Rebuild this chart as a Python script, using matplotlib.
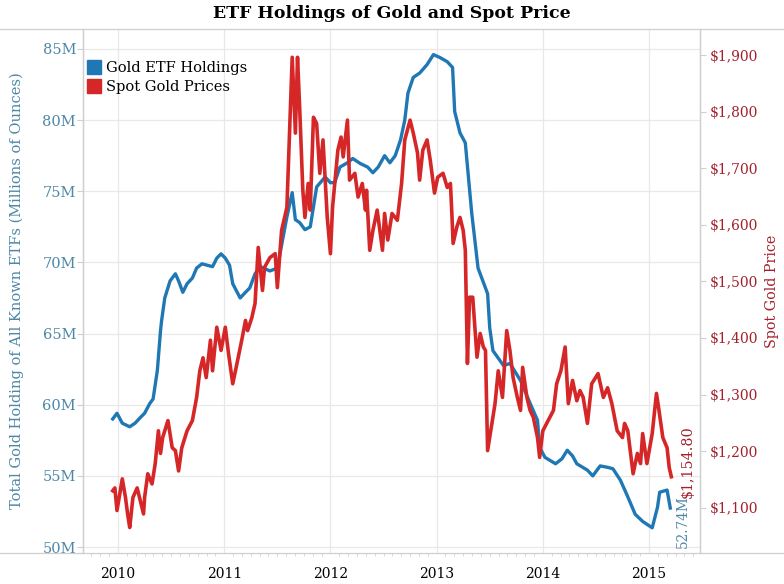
import matplotlib
matplotlib.use("Agg")
import matplotlib.pyplot as plt
from matplotlib.lines import Line2D
from matplotlib.ticker import FixedLocator, MultipleLocator, FuncFormatter

# Gold ETF holdings (millions of ounces)
hold_year = [2009.95, 2009.99, 2010.04, 2010.11, 2010.16, 2010.21, 2010.25, 2010.30, 2010.33, 2010.37,
             2010.40, 2010.41, 2010.44, 2010.49, 2010.54, 2010.57, 2010.61, 2010.65, 2010.70, 2010.74,
             2010.79, 2010.84, 2010.89, 2010.93, 2010.97, 2011.01, 2011.05, 2011.08, 2011.15, 2011.20,
             2011.24, 2011.29, 2011.34, 2011.43, 2011.50, 2011.55, 2011.59, 2011.64, 2011.67, 2011.71,
             2011.76, 2011.81, 2011.84, 2011.87, 2011.95, 2012.00, 2012.04, 2012.09, 2012.16, 2012.21,
             2012.28, 2012.35, 2012.40, 2012.45, 2012.51, 2012.56, 2012.61, 2012.66, 2012.70, 2012.73,
             2012.78, 2012.84, 2012.91, 2012.97, 2013.03, 2013.10, 2013.15, 2013.17, 2013.22, 2013.27,
             2013.33, 2013.39, 2013.48, 2013.50, 2013.53, 2013.63, 2013.69, 2013.79, 2013.88, 2013.95,
             2013.97, 2014.02, 2014.12, 2014.18, 2014.23, 2014.28, 2014.32, 2014.42, 2014.47, 2014.54,
             2014.61, 2014.66, 2014.73, 2014.79, 2014.87, 2014.94, 2015.03, 2015.08, 2015.10, 2015.17,
             2015.20]
hold_m = [59.0, 59.4, 58.7, 58.45, 58.7, 59.1, 59.4, 60.1, 60.4, 62.4,
          65.2, 65.9, 67.5, 68.7, 69.2, 68.7, 67.9, 68.5, 68.9, 69.6,
          69.9, 69.8, 69.7, 70.3, 70.6, 70.3, 69.8, 68.5, 67.5, 67.9,
          68.2, 69.2, 69.7, 69.4, 69.6, 71.6, 73.2, 74.9, 73.0, 72.8,
          72.3, 72.5, 73.9, 75.3, 76.0, 75.6, 75.6, 76.7, 77.0, 77.3,
          76.95, 76.7, 76.3, 76.7, 77.5, 77.0, 77.5, 78.6, 80.0, 81.9,
          83.0, 83.3, 83.9, 84.6, 84.4, 84.1, 83.7, 80.6, 79.1, 78.4,
          73.5, 69.6, 67.8, 65.4, 63.8, 62.75, 62.9, 61.7, 60.1, 58.9,
          57.0, 56.3, 55.85, 56.2, 56.8, 56.4, 55.85, 55.4, 55.0, 55.7,
          55.6, 55.5, 54.7, 53.7, 52.3, 51.8, 51.35, 52.8, 53.85, 54.0,
          52.74]

# Spot gold price (USD)
price_year = [2009.95, 2009.97, 2009.99, 2010.04, 2010.07, 2010.09, 2010.11, 2010.14, 2010.18, 2010.21,
              2010.24, 2010.25, 2010.28, 2010.32, 2010.35, 2010.38, 2010.40, 2010.42, 2010.47, 2010.51,
              2010.54, 2010.57, 2010.60, 2010.65, 2010.70, 2010.74, 2010.77, 2010.80, 2010.83, 2010.87,
              2010.89, 2010.93, 2010.97, 2011.01, 2011.04, 2011.08, 2011.12, 2011.17, 2011.20, 2011.22,
              2011.26, 2011.29, 2011.32, 2011.36, 2011.38, 2011.43, 2011.48, 2011.50, 2011.54, 2011.59,
              2011.62, 2011.64, 2011.67, 2011.69, 2011.71, 2011.74, 2011.76, 2011.79, 2011.81, 2011.84,
              2011.87, 2011.90, 2011.93, 2011.97, 2012.00, 2012.02, 2012.07, 2012.10, 2012.12, 2012.16,
              2012.18, 2012.23, 2012.26, 2012.30, 2012.33, 2012.34, 2012.37, 2012.40, 2012.44, 2012.49,
              2012.51, 2012.54, 2012.58, 2012.63, 2012.67, 2012.70, 2012.75, 2012.78, 2012.82, 2012.84,
              2012.87, 2012.91, 2012.94, 2012.98, 2013.01, 2013.06, 2013.10, 2013.13, 2013.145, 2013.155,
              2013.19, 2013.22, 2013.25, 2013.27, 2013.29, 2013.31, 2013.34, 2013.38, 2013.41, 2013.44,
              2013.46, 2013.48, 2013.52, 2013.55, 2013.58, 2013.62, 2013.66, 2013.69, 2013.72, 2013.76,
              2013.79, 2013.81, 2013.85, 2013.88, 2013.91, 2013.95, 2013.97, 2014.00, 2014.05, 2014.10,
              2014.13, 2014.17, 2014.21, 2014.24, 2014.28, 2014.32, 2014.35, 2014.38, 2014.42, 2014.46,
              2014.52, 2014.57, 2014.61, 2014.65, 2014.70, 2014.75, 2014.77, 2014.80, 2014.85, 2014.89,
              2014.92, 2014.94, 2014.98, 2015.03, 2015.07, 2015.09, 2015.13, 2015.17, 2015.19, 2015.21]
price_usd = [1130, 1135, 1095, 1151, 1118, 1089, 1065, 1118, 1135, 1112,
             1089, 1118, 1160, 1142, 1178, 1236, 1196, 1224, 1254, 1206,
             1201, 1165, 1206, 1236, 1254, 1295, 1342, 1365, 1330, 1396,
             1342, 1419, 1378, 1419, 1373, 1319, 1355, 1401, 1431, 1413,
             1436, 1461, 1560, 1484, 1525, 1542, 1549, 1489, 1590, 1631,
             1790, 1896, 1762, 1896, 1808, 1661, 1613, 1673, 1626, 1790,
             1779, 1691, 1750, 1613, 1549, 1631, 1732, 1755, 1720, 1785,
             1679, 1691, 1649, 1673, 1626, 1661, 1555, 1590, 1626, 1555,
             1620, 1573, 1620, 1608, 1673, 1750, 1785, 1762, 1727, 1679,
             1732, 1750, 1714, 1656, 1684, 1691, 1666, 1673, 1613, 1567,
             1596, 1613, 1590, 1555, 1355, 1472, 1472, 1366, 1408, 1384,
             1378, 1201, 1249, 1284, 1342, 1295, 1413, 1378, 1330, 1295,
             1272, 1348, 1295, 1272, 1260, 1224, 1189, 1236, 1254, 1272,
             1319, 1342, 1384, 1284, 1325, 1289, 1307, 1295, 1249, 1319,
             1337, 1295, 1312, 1284, 1236, 1224, 1249, 1236, 1160, 1196,
             1178, 1231, 1178, 1231, 1302, 1277, 1224, 1206, 1171, 1154.80]

year_ticks = [2010, 2011, 2012, 2013, 2014, 2015]
hold_ticks = [50, 55, 60, 65, 70, 75, 80, 85]
price_ticks = [1100, 1200, 1300, 1400, 1500, 1600, 1700, 1800, 1900]

BLUE = "#1f77b4"
RED = "#d62728"
BLUE_TXT = "#4d88a6"
RED_TXT = "#a3202b"
GRID = "#e8e8e8"
LINE = "#cfcfcf"

plt.rcParams["font.family"] = ["DejaVu Serif"]

fig = plt.figure(figsize=(7.84, 5.84), dpi=100)
ax = fig.add_axes([83 / 784, 1 - 553 / 584, (700 - 83) / 784, (553 - 29) / 584])
ax2 = ax.twinx()

ax.plot(hold_year, hold_m, color=BLUE, lw=2.4, solid_joinstyle="round", zorder=3)
ax2.plot(price_year, price_usd, color=RED, lw=2.6, solid_joinstyle="round", zorder=3)

ax.set_xlim(2009.67, 2015.48)
ax.set_ylim(49.58, 86.4)
ax2.set_ylim(1020, 1946)

ax.xaxis.set_major_locator(FixedLocator(year_ticks))
ax.xaxis.set_minor_locator(MultipleLocator(1 / 12))
ax.set_xticklabels([str(y) for y in year_ticks])
ax.yaxis.set_major_locator(FixedLocator(hold_ticks))
ax.yaxis.set_major_formatter(FuncFormatter(lambda v, p: f"{v:.0f}M"))
ax2.yaxis.set_major_locator(FixedLocator(price_ticks))
ax2.yaxis.set_major_formatter(FuncFormatter(lambda v, p: f"${v:,.0f}"))

ax.grid(True, which="major", color=GRID, lw=0.9)
ax.set_axisbelow(True)

for a in (ax, ax2):
    for s in a.spines.values():
        s.set_color(LINE)
        s.set_linewidth(0.9)
    a.spines["top"].set_visible(False)
    a.spines["bottom"].set_visible(False)

ax.tick_params(axis="x", which="major", length=0, pad=10, labelsize=10, labelcolor="black")
ax.tick_params(axis="x", which="minor", length=2, color=LINE, direction="out")
ax.tick_params(axis="y", length=4, color=LINE, pad=1, labelsize=10.5, labelcolor=BLUE_TXT)
ax2.tick_params(axis="y", length=4, color=LINE, pad=3, labelsize=10, labelcolor=RED_TXT)

ax.set_ylabel("Total Gold Holding of All Known ETFs (Millions of Ounces)", color=BLUE_TXT,
              fontsize=10.5, labelpad=13)
ax2.set_ylabel("Spot Gold Price", color=RED_TXT, fontsize=10.3, labelpad=5)

# figure-wide frame lines under the title and along the bottom
fig.add_artist(Line2D([0, 1], [1 - 29 / 584, 1 - 29 / 584], transform=fig.transFigure, color=LINE, lw=0.9))
fig.add_artist(Line2D([0, 1], [1 - 553 / 584, 1 - 553 / 584], transform=fig.transFigure, color=LINE, lw=0.9))

fig.text(0.5, 1 - 14 / 584, "ETF Holdings of Gold and Spot Price", ha="center", va="center",
         fontsize=12.5, fontweight="bold")

# legend
handles = [Line2D([], [], marker="s", ls="none", color=BLUE, markersize=10),
           Line2D([], [], marker="s", ls="none", color=RED, markersize=10)]
ax.legend(handles, ["Gold ETF Holdings", "Spot Gold Prices"], loc="upper left",
          bbox_to_anchor=(-0.005, 0.955), frameon=False, fontsize=10.5,
          handlelength=0.8, handletextpad=0.4, labelspacing=0.3, borderaxespad=0.2)

# end-of-line value labels
ax.annotate(f"{hold_m[-1]:.2f}M", xy=(hold_year[-1], hold_m[-1]), xytext=(9, 9),
            textcoords="offset points", rotation=90, ha="center", va="top",
            color=BLUE_TXT, fontsize=9.8)
ax2.annotate(f"${price_usd[-1]:,.2f}", xy=(price_year[-1], price_usd[-1]), xytext=(12, -15),
             textcoords="offset points", rotation=90, ha="center", va="bottom",
             color=RED_TXT, fontsize=10.3)

fig.savefig("out.png", dpi=100)
